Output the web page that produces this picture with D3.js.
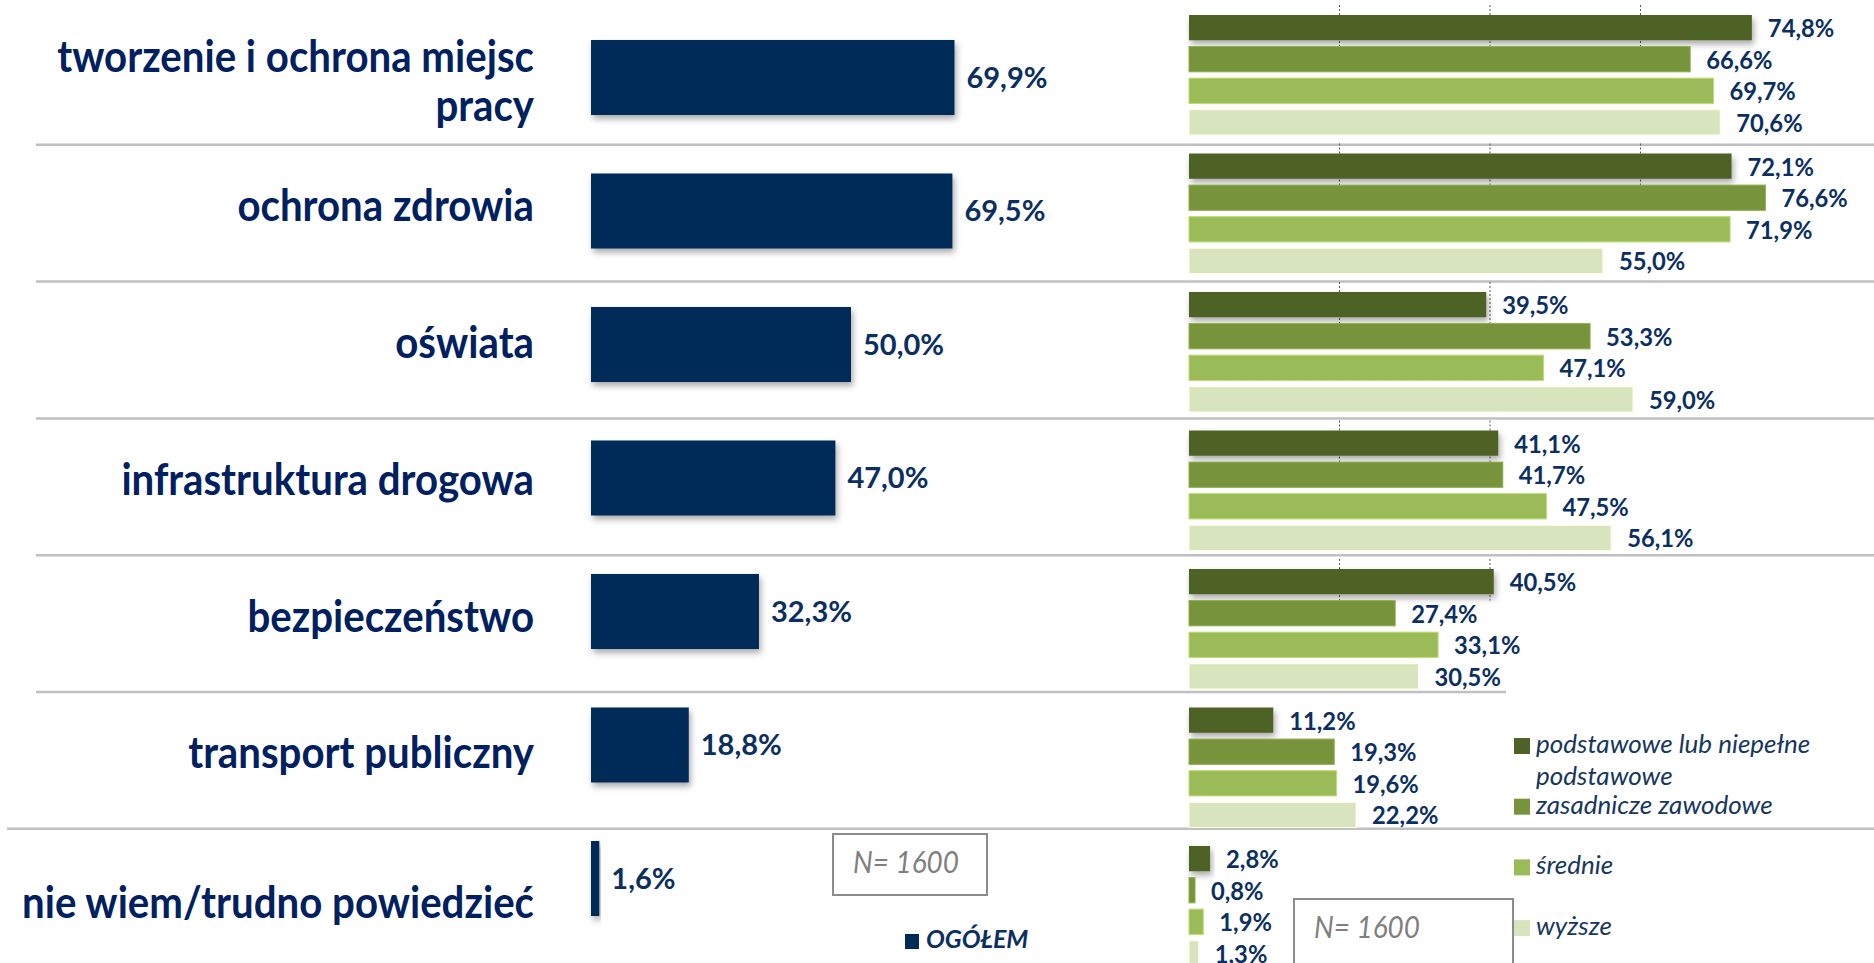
<!DOCTYPE html>
<html>
<head>
<meta charset="utf-8">
<script src="https://cdnjs.cloudflare.com/ajax/libs/d3/7.8.5/d3.min.js"></script>
<style>
  body { margin: 0; background: #fff; }
  svg { display: block; font-family: Lato, "Open Sans", sans-serif; }
  .catText { font-size: 43px; font-weight: 700; fill: #002060; }
  .totText { font-size: 29px; font-weight: 700; fill: #0c2f62; }
  .grpText { font-size: 25px; font-weight: 700; fill: #0c2f62; }
  .legText { font-size: 26px; font-style: italic; fill: #17375e; }
  .totLeg  { font-size: 25px; font-style: italic; font-weight: 700; fill: #0c2f62; }
  .nText   { font-size: 30px; font-style: italic; fill: #7f7f7f; }
</style>
</head>
<body>
<div id="chart"></div>
<script>
// Data =================================================
var categories = [
  "tworzenie i ochrona miejsc pracy",
  "ochrona zdrowia",
  "oświata",
  "infrastruktura drogowa",
  "bezpieczeństwo",
  "transport publiczny",
  "nie wiem/trudno powiedzieć"
];

// OGÓŁEM (all respondents)
var totalValues = [69.9, 69.5, 50.0, 47.0, 32.3, 18.8, 1.6];

// by education
var seriesNames = [
  "podstawowe lub niepełne podstawowe",
  "zasadnicze zawodowe",
  "średnie",
  "wyższe"
];
var podstawowe = [74.8, 72.1, 39.5, 41.1, 40.5, 11.2, 2.8];
var zasadnicze = [66.6, 76.6, 53.3, 41.7, 27.4, 19.3, 0.8];
var srednie    = [69.7, 71.9, 47.1, 47.5, 33.1, 19.6, 1.9];
var wyzsze     = [70.6, 55.0, 59.0, 56.1, 30.5, 22.2, 1.3];
var seriesValues = [podstawowe, zasadnicze, srednie, wyzsze];

var totalName = "OGÓŁEM";
var sampleNote = "N= 1600";

// Layout ===============================================
var width = 1874;
var height = 963;

var navy = "#002b59";
var seriesColors = ["#4f6228", "#77933c", "#9bbb59", "#d7e4bd"];

var svg = d3.select("#chart")
    .append("svg")
    .attr("width", width)
    .attr("height", height);

svg.append("rect").attr("width", width).attr("height", height).attr("fill", "#fff");

// drop shadow for the darker bars
var shadow = svg.append("defs").append("filter")
    .attr("id", "shadow")
    .attr("x", "-20%").attr("y", "-30%")
    .attr("width", "140%").attr("height", "170%");
shadow.append("feDropShadow")
    .attr("dx", 2).attr("dy", 4)
    .attr("stdDeviation", 3)
    .attr("flood-color", "#000")
    .attr("flood-opacity", 0.33);

function fmt(v) {
  return d3.format(".1f")(v).replace(".", ",") + "%";
}

// source text is Calibri, narrower than Lato: condense it a bit
function squeeze(sel, k) {
  sel.each(function() {
    var w = this.getComputedTextLength();
    d3.select(this)
      .attr("textLength", w * k)
      .attr("lengthAdjust", "spacingAndGlyphs");
  });
}

// split a string into lines that fit maxW
function wrapLines(str, maxW, cls, k) {
  var probe = svg.append("text").attr("class", cls);
  var words = str.split(" ");
  var lines = [];
  var line = [];
  words.forEach(function(w) {
    probe.text(line.concat([w]).join(" "));
    if (probe.node().getComputedTextLength() * k > maxW && line.length) {
      lines.push(line.join(" "));
      line = [w];
    } else {
      line.push(w);
    }
  });
  lines.push(line.join(" "));
  probe.remove();
  return lines;
}

// Table rows and separators ============================
var rowStep = 136.8;
var rowTop = 8;
var tableBottom = 992;
function rowEdge(i) {
  return i >= categories.length ? tableBottom : rowTop + i * rowStep;
}
function rowMid(i) { return (rowEdge(i) + rowEdge(i + 1)) / 2; }

var sepIdx = d3.range(1, categories.length);
svg.append("g").attr("class", "separators")
  .selectAll("line")
  .data(sepIdx)
  .enter()
  .append("line")
    .attr("x1", function(d) { return d === categories.length - 1 ? 7 : 36; })
    .attr("x2", function(d) {
      // legend box hides the line above the last-but-one row
      return d === categories.length - 2 ? 1506 : width;
    })
    .attr("y1", rowEdge)
    .attr("y2", rowEdge)
    .attr("stroke", "#c0c0c0")
    .attr("stroke-width", 2.5);

// Category labels ======================================
var labelRight = 534;
var catK = 0.935;
var catG = svg.append("g").attr("class", "catLabels");
categories.forEach(function(c, i) {
  var lines = wrapLines(c, 540, "catText", catK);
  var n = lines.length;
  lines.forEach(function(l, j) {
    catG.append("text")
      .attr("class", "catText")
      .attr("x", labelRight)
      .attr("y", rowMid(i) + 8 - 12 * (n - 1) + 49 * j)
      .attr("text-anchor", "end")
      .text(l);
  });
});
squeeze(catG.selectAll("text"), catK);

// Left panel: total =====================================
var xL = d3.scaleLinear().domain([0, 100]).range([591, 1111]);
var yL = d3.scaleBand()
    .domain(categories)
    .range([10.75, 945.25])
    .paddingInner(0.438)
    .paddingOuter(0.219);

var leftG = svg.append("g").attr("class", "totalBars");
leftG.selectAll("rect")
  .data(totalValues)
  .enter()
  .append("rect")
    .attr("x", xL(0))
    .attr("y", function(d, i) { return yL(categories[i]); })
    .attr("width", function(d) { return xL(d) - xL(0); })
    .attr("height", yL.bandwidth())
    .attr("fill", navy)
    .attr("filter", "url(#shadow)");

leftG.selectAll("text")
  .data(totalValues)
  .enter()
  .append("text")
    .attr("class", "totText")
    .attr("x", function(d) { return xL(d) + 12; })
    .attr("y", function(d, i) { return yL(categories[i]) + yL.bandwidth() / 2 + 10; })
    .text(fmt);

// Right panel: by education =============================
var xR = d3.scaleLinear().domain([0, 100]).range([1189, 1941.5]);
var yG = d3.scaleBand()
    .domain(categories)
    .range([5.75, 975.25])
    .paddingInner(0.1336)
    .paddingOuter(0.0668);
var ySub = d3.scaleBand()
    .domain(seriesNames)
    .range([0, yG.bandwidth()])
    .paddingInner(0.2);

// dotted gridlines peeking out around the first bar of each group
var gridG = svg.append("g").attr("class", "grid");
categories.forEach(function(c, i) {
  var top = yG(c) - 10;
  var bottom = yG(c) + ySub(seriesNames[1]);
  xR.ticks(5).filter(function(t) { return t > 0 && t <= podstawowe[i] + 1; })
    .forEach(function(t) {
      gridG.append("line")
        .attr("x1", xR(t)).attr("x2", xR(t))
        .attr("y1", top).attr("y2", bottom)
        .attr("stroke", "#595959")
        .attr("stroke-width", 1)
        .attr("stroke-dasharray", "2,2");
    });
});

var rightG = svg.append("g").attr("class", "groupBars");
seriesNames.forEach(function(s, k) {
  var g = rightG.append("g").attr("class", "series" + k);
  g.selectAll("rect")
    .data(seriesValues[k])
    .enter()
    .append("rect")
      .attr("x", xR(0))
      .attr("y", function(d, i) { return yG(categories[i]) + ySub(s); })
      .attr("width", function(d) { return xR(d) - xR(0); })
      .attr("height", ySub.bandwidth())
      .attr("fill", seriesColors[k])
      .attr("stroke", k === 0 ? "none" : d3.color(seriesColors[k]).brighter(0.5))
      .attr("stroke-width", 1)
      .attr("filter", k === 0 ? "url(#shadow)" : null);

  g.selectAll("text")
    .data(seriesValues[k])
    .enter()
    .append("text")
      .attr("class", "grpText")
      .attr("x", function(d) { return xR(d) + 16; })
      .attr("y", function(d, i) {
        return yG(categories[i]) + ySub(s) + ySub.bandwidth() / 2 + 9.5;
      })
      .text(fmt);
});
squeeze(rightG.selectAll("text"), 0.95);

// Legend (education) ===================================
var legG = svg.append("g").attr("class", "legend");
seriesNames.forEach(function(s, k) {
  var y0 = 738 + k * 60.7;
  legG.append("rect")
    .attr("x", 1514).attr("y", y0)
    .attr("width", 16).attr("height", 16)
    .attr("fill", seriesColors[k]);
  var lines = wrapLines(s, 300, "legText", 1);
  lines.forEach(function(l, j) {
    legG.append("text")
      .attr("class", "legText")
      .attr("x", 1536)
      .attr("y", y0 + 15 + j * 32)
      .text(l);
  });
});

// Legend (total) =======================================
svg.append("rect")
  .attr("x", 905).attr("y", 934)
  .attr("width", 14).attr("height", 15)
  .attr("fill", navy);
svg.append("text")
  .attr("class", "totLeg")
  .attr("x", 926).attr("y", 948)
  .text(totalName);

// Sample size boxes ====================================
var boxes = [
  { x: 833, y: 834, w: 154, h: 61, tx: 853, ty: 873 },
  { x: 1294, y: 899, w: 219, h: 80, tx: 1314, ty: 938 }
];
boxes.forEach(function(b) {
  svg.append("rect")
    .attr("x", b.x).attr("y", b.y)
    .attr("width", b.w).attr("height", b.h)
    .attr("fill", "#fff")
    .attr("stroke", "#8c8c8c")
    .attr("stroke-width", 2);
  svg.append("text")
    .attr("class", "nText")
    .attr("x", b.tx).attr("y", b.ty)
    .text(sampleNote)
    .call(squeeze, 0.93);
});
</script>
</body>
</html>
